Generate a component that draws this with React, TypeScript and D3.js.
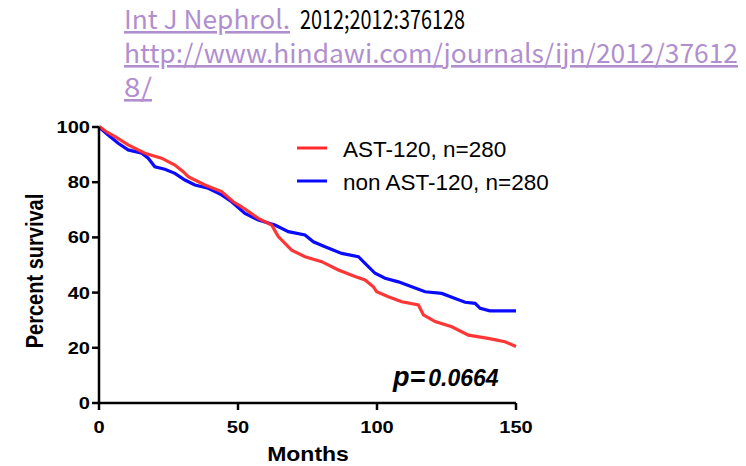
import React from 'react';
import * as d3 from 'd3';

// Kaplan-Meier curves (months, percent survival)
const astMonths = [0, 0.4, 3, 5.8, 10.5, 16.5, 22.5, 27.3, 30.3, 32.1, 38.1, 44.1, 48.3, 51.3, 57.3, 62.1, 64.5, 69.3, 74.1, 80.1, 86.1, 92.1, 95.7, 98.7, 99.9, 104.1, 108.9, 114.9, 116.7, 120.9, 126.9, 132.9, 140, 146, 150];
const astSurv = [100, 100, 98, 96.5, 93.5, 90.5, 88.7, 86.2, 83.8, 82, 79, 76.6, 72.9, 71.1, 66.9, 64.5, 60.3, 55.4, 53, 51.2, 48.2, 45.8, 44.6, 42.1, 40.3, 38.5, 36.7, 35.5, 31.9, 29.5, 27.6, 24.6, 23.4, 22.2, 20.5];

const nonMonths = [0, 0.5, 3.3, 6.9, 10.5, 15.4, 17.7, 20.1, 23.7, 27.3, 30.9, 34.5, 39.3, 44.1, 47.7, 52.5, 57.3, 63.3, 68.1, 74.1, 77.1, 81.3, 87.3, 93.3, 95.7, 99.3, 102.9, 107.7, 112.5, 117.3, 123.3, 128.1, 131.7, 135.3, 137.1, 140.6, 150];
const nonSurv = [100, 99.5, 97.1, 94.1, 91.7, 90.5, 88.7, 85.6, 84.7, 83.2, 80.8, 79, 77.8, 75.4, 72.9, 68.7, 66.3, 64.5, 62.1, 60.9, 58.4, 56.6, 54.2, 53, 50.6, 47, 45.2, 43.9, 42.1, 40.3, 39.7, 37.9, 36.5, 36.1, 34.3, 33.4, 33.4];

const xTicks = [0, 50, 100, 150];
const yTicks = [0, 20, 40, 60, 80, 100];
const seriesNames = ['AST-120, n=280', 'non AST-120, n=280'];
const pLabel = '0.0664';

const RED = '#ff2b2b';
const BLUE = '#0a0aff';
const LINK = '#b18fcf';
const FONT = '"Liberation Sans", Arial, sans-serif';

const App = () => {
  const x = d3.scaleLinear().domain([0, 150]).range([99, 516]);
  const y = d3.scaleLinear().domain([0, 100]).range([403, 127]);

  const line = d3.line<[number, number]>()
    .x(d => x(d[0]))
    .y(d => y(d[1]))
    .curve(d3.curveLinear);

  const ast = astMonths.map((m, i) => [m, astSurv[i]] as [number, number]);
  const non = nonMonths.map((m, i) => [m, nonSurv[i]] as [number, number]);

  return (
    <svg width={746} height={466} style={{ position: 'absolute', left: 0, top: 0, background: '#fff' }}>
      {/* citation header */}
      <g fontFamily='"Noto Sans CJK JP", sans-serif' fontSize={26}>
        <text x={124} y={29} fill={LINK} textLength={166} lengthAdjust="spacingAndGlyphs" style={{ textDecoration: 'underline' }}>Int J Nephrol.</text>
        <text x={300} y={29} fill="#000" textLength={165} lengthAdjust="spacingAndGlyphs">2012;2012:376128</text>
        <text x={124} y={63} fill={LINK} textLength={614} lengthAdjust="spacingAndGlyphs" style={{ textDecoration: 'underline' }}>http://www.hindawi.com/journals/ijn/2012/37612</text>
        <text x={124} y={97} fill={LINK} textLength={28} lengthAdjust="spacingAndGlyphs" style={{ textDecoration: 'underline' }}>8/</text>
      </g>

      {/* curves */}
      <path d={line(non) || ''} fill="none" stroke={BLUE} strokeWidth={3.2} />
      <path d={line(ast) || ''} fill="none" stroke={RED} strokeWidth={3.2} strokeOpacity={0.95} />

      {/* axes */}
      <g stroke="#000" strokeWidth={2.5}>
        <line x1={x(0)} x2={x(0)} y1={y(100)} y2={y(0) + 1} />
        <line x1={x(0) - 1} x2={x(150)} y1={y(0)} y2={y(0)} />
        {yTicks.map(t => (
          <line key={'yt' + t} x1={x(0) - 7} x2={x(0)} y1={y(t)} y2={y(t)} />
        ))}
        {xTicks.map(t => (
          <line key={'xt' + t} x1={x(t)} x2={x(t)} y1={y(0)} y2={y(0) + 7} />
        ))}
      </g>
      <g fontFamily={FONT} fontWeight="bold" fontSize={17} fill="#000">
        {yTicks.map(t => (
          <text key={'yl' + t} textAnchor="end" transform={`translate(${x(0) - 9},${y(t) + 6}) scale(1.18,1)`}>{t}</text>
        ))}
        {xTicks.map(t => (
          <text key={'xl' + t} textAnchor="middle" transform={`translate(${x(t)},${y(0) + 30}) scale(1.18,1)`}>{t}</text>
        ))}
      </g>

      {/* axis titles */}
      <text fontFamily={FONT} fontWeight="bold" fontSize={20} textAnchor="middle" transform="translate(43,271) scale(1.15,1) rotate(-90)">Percent survival</text>
      <text fontFamily={FONT} fontWeight="bold" fontSize={20} textAnchor="middle" transform="translate(308,461) scale(1.15,1)">Months</text>

      {/* legend */}
      <g fontFamily={FONT} fontSize={22.5} fill="#000">
        <line x1={297} x2={327} y1={148} y2={148} stroke={RED} strokeWidth={3} />
        <text x={343} y={157}>{seriesNames[0]}</text>
        <line x1={297} x2={327} y1={181} y2={181} stroke={BLUE} strokeWidth={3} />
        <text x={343} y={190}>{seriesNames[1]}</text>
      </g>

      {/* p value */}
      <text x={393} y={386} fontFamily={FONT} fontWeight="bold" fontStyle="italic" fill="#000">
        <tspan fontSize={27}>p=</tspan>
        <tspan fontSize={23} dx={3}>{pLabel}</tspan>
      </text>
    </svg>
  );
};

export default App;
